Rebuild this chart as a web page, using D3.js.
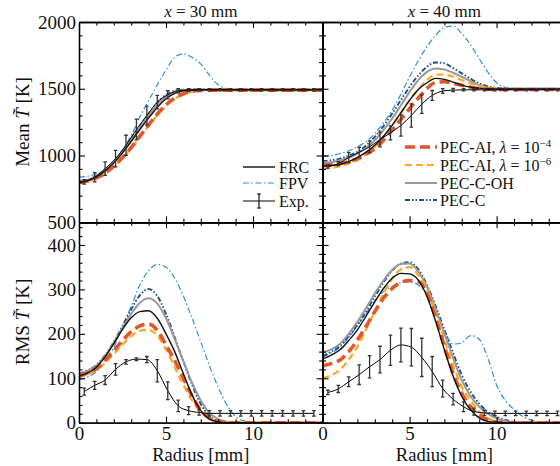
<!DOCTYPE html>
<html><head><meta charset="utf-8">
<script src="https://cdn.jsdelivr.net/npm/d3@7"></script>
<style>body{margin:0;background:#fff}svg{display:block}</style>
</head><body>
<svg id="c" width="560" height="466"></svg>
<script>
// ---------- data ----------
const radius = [0,0.5,1,1.5,2,2.5,3,3.5,4,4.5,5,5.5,6,6.5,7,7.5,8,8.5,9,9.5,10,10.5,11,11.5,12,12.5,13,13.5,14];
const radiusExp = [0.3,0.9,1.5,2.1,2.7,3.3,3.9,4.5,5.1,5.7,6.3,6.9,7.5,8.1,8.7,9.3,9.9,10.5,11.1,11.7,12.3,12.9,13.5];

// Mean T, x = 30 mm
const meanT30_FRC   = [800,812,840,885,945,1020,1105,1195,1280,1360,1425,1465,1485,1491,1492,1492,1492,1492,1492,1492,1492,1492,1492,1492,1492,1492,1492,1492,1492];
const meanT30_FPV   = [838,845,862,895,950,1040,1150,1290,1410,1530,1640,1735,1762,1735,1685,1600,1530,1502,1495,1494,1494,1494,1494,1494,1494,1494,1494,1494,1494];
const meanT30_AI4   = [800,810,832,868,920,985,1060,1145,1230,1310,1380,1430,1463,1480,1487,1490,1490,1490,1490,1490,1490,1490,1490,1490,1490,1490,1490,1490,1490];
const meanT30_AI6   = [795,806,828,864,915,980,1055,1138,1222,1302,1372,1425,1460,1478,1486,1489,1489,1489,1489,1489,1489,1489,1489,1489,1489,1489,1489,1489,1489];
const meanT30_COH   = [805,817,845,890,950,1028,1115,1208,1298,1380,1442,1478,1490,1493,1494,1494,1494,1494,1494,1494,1494,1494,1494,1494,1494,1494,1494,1494,1494];
const meanT30_C     = [808,820,848,893,955,1035,1125,1220,1310,1395,1455,1485,1493,1494,1494,1494,1494,1494,1494,1494,1494,1494,1494,1494,1494,1494,1494,1494,1494];
const meanT30_Exp   = [803,837,902,977,1077,1195,1300,1400,1455,1485,1490,1492,1492,1492,1492,1492,1492,1492,1492,1492,1492,1492,1492];
const meanT30_Err   = [17,35,50,62,75,78,70,50,30,15,10,8,8,8,8,8,8,8,8,8,8,8,8];

// Mean T, x = 40 mm
const meanT40_FRC   = [920,925,935,955,985,1025,1077,1145,1227,1320,1415,1495,1545,1578,1570,1550,1527,1512,1505,1500,1498,1498,1498,1498,1498,1498,1498,1498,1498];
const meanT40_FPV   = [995,1000,1015,1035,1065,1105,1165,1245,1340,1460,1590,1710,1815,1900,1960,1970,1915,1830,1727,1625,1545,1510,1500,1497,1497,1497,1497,1497,1497];
const meanT40_AI4   = [927,932,940,955,977,1010,1052,1115,1190,1270,1352,1430,1502,1548,1552,1540,1527,1512,1502,1496,1495,1495,1495,1495,1495,1495,1495,1495,1495];
const meanT40_AI6   = [902,907,920,940,965,1010,1065,1140,1227,1320,1415,1495,1565,1605,1607,1590,1565,1540,1520,1508,1502,1497,1497,1497,1497,1497,1497,1497,1497];
const meanT40_COH   = [945,950,965,985,1015,1058,1115,1190,1277,1375,1477,1565,1627,1652,1645,1620,1590,1557,1527,1510,1502,1500,1500,1500,1500,1500,1500,1500,1500];
const meanT40_C     = [960,965,977,998,1027,1075,1140,1220,1315,1415,1515,1600,1665,1697,1690,1655,1615,1575,1540,1518,1507,1502,1500,1500,1500,1500,1500,1500,1500];
const meanT40_Exp   = [918,940,985,1025,1065,1120,1170,1225,1300,1385,1450,1483,1490,1492,1492,1492,1492,1492,1492,1492,1492,1492,1492];
const meanT40_Err   = [12,15,37,37,45,55,52,80,87,70,37,18,12,8,8,8,8,8,8,8,8,8,8];

// RMS T, x = 30 mm
const rmsT30_FRC    = [105,112,125,148,178,210,236,250,252,235,200,160,110,62,27,8,2,0,0,0,0,0,0,0,0,0,0,0,0];
const rmsT30_FPV    = [97,103,115,137,170,215,262,310,342,356,350,325,285,235,182,128,80,40,14,4,1,0,0,0,0,0,0,0,0];
const rmsT30_AI4    = [105,112,122,140,162,185,205,218,222,208,175,140,100,60,28,10,2,0,0,0,0,0,0,0,0,0,0,0,0];
const rmsT30_AI6    = [102,109,118,135,155,176,195,207,209,196,165,125,85,50,24,9,3,0,0,0,0,0,0,0,0,0,0,0,0];
const rmsT30_COH    = [108,116,128,150,180,213,245,270,280,268,235,188,138,90,50,22,8,2,0,0,0,0,0,0,0,0,0,0,0];
const rmsT30_C      = [110,118,130,152,182,218,255,287,301,285,245,192,138,85,42,15,4,1,0,0,0,0,0,0,0,0,0,0,0];
const rmsT30_Exp    = [70,84,96,120,137,143,142,117,72,38,27,23,21,21,21,21,21,21,21,21,21,21,21];
const rmsT30_Err    = [8,9,10,13,5,3,7,25,20,13,9,6,6,6,6,6,6,6,6,6,6,6,6];

// RMS T, x = 40 mm
const rmsT40_FRC    = [143,152,164,185,209,240,272,302,325,336,335,321,284,228,164,105,59,29,11,3,1,0,0,0,0,0,0,0,0];
const rmsT40_FPV    = [148,157,170,192,218,246,275,295,307,315,317,310,290,250,205,177,180,196,188,145,85,50,30,14,6,2,0,0,0];
const rmsT40_AI4    = [128,133,141,160,186,217,250,280,302,316,320,318,291,235,171,111,66,36,17,6,1,0,0,0,0,0,0,0,0];
const rmsT40_AI6    = [100,107,119,142,171,210,250,290,325,345,350,332,299,245,186,130,81,51,25,10,2,0,0,0,0,0,0,0,0];
const rmsT40_COH    = [158,165,177,200,227,258,291,320,344,357,358,340,306,255,201,146,96,60,36,20,10,4,1,0,0,0,0,0,0];
const rmsT40_C      = [150,160,173,195,220,250,284,316,342,358,361,345,310,262,209,157,107,70,43,24,13,6,2,1,0,0,0,0,0];
const rmsT40_Exp    = [68,76,92,108,126,142,163,175,170,147,115,77,53,36,25,22,21,21,21,21,21,21,21];
const rmsT40_Err    = [5,8,11,22,25,30,34,38,42,43,34,19,13,11,8,6,5,5,5,5,5,5,5];

const meanTicks = [500,1000,1500,2000];
const rmsTicks = [0,100,200,300,400];
const radiusTicks = [0,5,10];
const panelTitles = ["30","40"];

// ---------- styles ----------
const styles = {
  FPV: {color:"#2d8fd5", width:1.2, dash:"6,2.5,1.5,2.5", label:"FPV"},
  C:   {color:"#1b4e8a", width:1.9, dash:"5,2,1.5,2,1.5,2", label:"PEC-C"},
  COH: {color:"#999999", width:2, dash:null, label:"PEC-C-OH"},
  AI6: {color:"#ffa81c", width:2.2, dash:"7,4", label:"PEC-AI"},
  AI4: {color:"#e2562a", width:3.6, dash:"10,5", label:"PEC-AI"},
  FRC: {color:"#111111", width:1.4, dash:null, label:"FRC"}
};
const order = ["FPV","C","COH","AI6","AI4","FRC"];
const FONT = "'Liberation Serif','Times New Roman',serif";

const svg = d3.select("#c");
const xL = d3.scaleLinear([0,14],[79,322.6]);
const xR = d3.scaleLinear([0,14],[322.6,566.2]);
const yTop = d3.scaleLinear([500,2000],[222.3,22]);
const yBot = d3.scaleLinear([0,451],[422.7,222.3]);

const panels = [
  {x:xL, y:yTop, s:{FRC:meanT30_FRC,FPV:meanT30_FPV,AI4:meanT30_AI4,AI6:meanT30_AI6,COH:meanT30_COH,C:meanT30_C}, exp:meanT30_Exp, err:meanT30_Err},
  {x:xR, y:yTop, s:{FRC:meanT40_FRC,FPV:meanT40_FPV,AI4:meanT40_AI4,AI6:meanT40_AI6,COH:meanT40_COH,C:meanT40_C}, exp:meanT40_Exp, err:meanT40_Err},
  {x:xL, y:yBot, s:{FRC:rmsT30_FRC,FPV:rmsT30_FPV,AI4:rmsT30_AI4,AI6:rmsT30_AI6,COH:rmsT30_COH,C:rmsT30_C}, exp:rmsT30_Exp, err:rmsT30_Err},
  {x:xR, y:yBot, s:{FRC:rmsT40_FRC,FPV:rmsT40_FPV,AI4:rmsT40_AI4,AI6:rmsT40_AI6,COH:rmsT40_COH,C:rmsT40_C}, exp:rmsT40_Exp, err:rmsT40_Err}
];

const defs = svg.append("defs");
panels.forEach((p,i)=>{
  const [x0,x1]=p.x.range(), [y0,y1]=p.y.range();
  defs.append("clipPath").attr("id","clip"+i).append("rect")
    .attr("x",x0).attr("y",y1).attr("width",x1-x0).attr("height",y0-y1);
  const g = svg.append("g").attr("clip-path",`url(#clip${i})`);
  order.forEach(k=>{
    const st=styles[k];
    const line=d3.line().x((d,j)=>p.x(radius[j])).y(d=>p.y(d)).curve(d3.curveMonotoneX);
    g.append("path").attr("d",line(p.s[k])).attr("fill","none")
      .attr("stroke",st.color).attr("stroke-width",st.width)
      .attr("stroke-dasharray",st.dash).attr("stroke-linejoin","round");
  });
  // experiment
  const eline=d3.line().x((d,j)=>p.x(radiusExp[j])).y(d=>p.y(d)).curve(d3.curveMonotoneX);
  g.append("path").attr("d",eline(p.exp)).attr("fill","none").attr("stroke","#000").attr("stroke-width",1);
  const eb=g.selectAll(null).data(p.exp).enter().append("g").attr("stroke","#333").attr("stroke-width",1.3);
  eb.append("line").attr("x1",(d,j)=>p.x(radiusExp[j])).attr("x2",(d,j)=>p.x(radiusExp[j]))
    .attr("y1",(d,j)=>p.y(d-p.err[j])).attr("y2",(d,j)=>p.y(d+p.err[j]));
  eb.append("line").attr("x1",(d,j)=>p.x(radiusExp[j])-1.8).attr("x2",(d,j)=>p.x(radiusExp[j])+1.8)
    .attr("y1",(d,j)=>p.y(d-p.err[j])).attr("y2",(d,j)=>p.y(d-p.err[j]));
  eb.append("line").attr("x1",(d,j)=>p.x(radiusExp[j])-1.8).attr("x2",(d,j)=>p.x(radiusExp[j])+1.8)
    .attr("y1",(d,j)=>p.y(d+p.err[j])).attr("y2",(d,j)=>p.y(d+p.err[j]));
});

// ---------- axes ----------
function styleAxis(sel, labels){
  sel.selectAll("path.domain").attr("stroke","#000").attr("stroke-width",1.3);
  sel.selectAll(".tick line").attr("stroke","#000").attr("stroke-width",1.1);
  sel.selectAll("text").attr("font-family",FONT).attr("font-size",19).attr("fill","#111");
  if(!labels) sel.selectAll("text").remove();
}
function addAxis(gen, tx, ty, labels){
  const g=svg.append("g").attr("transform",`translate(${tx},${ty})`).call(gen);
  styleAxis(g, labels);
}
const minorX = d3.range(15).filter(v=>v%5!==0);
const minorTop = d3.range(600,2000,100).filter(v=>v%500!==0);
const minorBot = d3.range(20,451,20).filter(v=>v%100!==0);

panels.forEach((p,i)=>{
  const [x0,x1]=p.x.range(), [y0,y1]=p.y.range();
  const isTop = i<2, isLeft = i%2===0;
  const yMaj = isTop?meanTicks:rmsTicks, yMin = isTop?minorTop:minorBot;
  addAxis(d3.axisLeft(p.y).tickValues(yMaj).tickSize(-6).tickSizeOuter(0).tickPadding(3).tickFormat(d3.format("d")), x0,0,isLeft);
  addAxis(d3.axisLeft(p.y).tickValues(yMin).tickSize(-3.5).tickSizeOuter(0).tickFormat(""), x0,0,false);
  addAxis(d3.axisRight(p.y).tickValues(yMaj).tickSize(-6).tickSizeOuter(0).tickFormat(""), x1,0,false);
  addAxis(d3.axisRight(p.y).tickValues(yMin).tickSize(-3.5).tickSizeOuter(0).tickFormat(""), x1,0,false);
  addAxis(d3.axisBottom(p.x).tickValues(radiusTicks).tickSize(-6).tickSizeOuter(0).tickPadding(4).tickFormat(d3.format("d")), 0,y0,!isTop);
  addAxis(d3.axisBottom(p.x).tickValues(minorX).tickSize(-3.5).tickSizeOuter(0).tickFormat(""), 0,y0,false);
  addAxis(d3.axisTop(p.x).tickValues(radiusTicks).tickSize(-6).tickSizeOuter(0).tickFormat(""), 0,y1,false);
  addAxis(d3.axisTop(p.x).tickValues(minorX).tickSize(-3.5).tickSizeOuter(0).tickFormat(""), 0,y1,false);
});

// ---------- titles & labels ----------
[xL,xR].forEach((x,i)=>{
  const cx=(x.range()[0]+x.range()[1])/2;
  const t=svg.append("text").attr("x",cx).attr("y",17).attr("text-anchor","middle")
    .attr("font-family",FONT).attr("font-size",17).attr("fill","#111");
  t.append("tspan").attr("font-style","italic").text("x");
  t.append("tspan").text(" = "+panelTitles[i]+" mm");
  svg.append("text").attr("x",cx).attr("y",461).attr("text-anchor","middle")
    .attr("font-family",FONT).attr("font-size",18.5).attr("fill","#111").text("Radius [mm]");
});
function ylabel(word, cy){
  const t=svg.append("text").attr("transform",`translate(29,${cy}) rotate(-90)`).attr("text-anchor","middle")
    .attr("font-family",FONT).attr("font-size",19).attr("fill","#111");
  t.append("tspan").text(word+" ");
  t.append("tspan").attr("font-style","italic").text("T\u0303");
  t.append("tspan").text(" [K]");
}
ylabel("Mean",122);
ylabel("RMS",322);

// ---------- legends ----------
function legendLine(k,x0,x1,y){
  const st=styles[k];
  svg.append("line").attr("x1",x0).attr("x2",x1).attr("y1",y).attr("y2",y)
    .attr("stroke",st.color).attr("stroke-width",st.width).attr("stroke-dasharray",st.dash);
}
function legendText(x,y){
  return svg.append("text").attr("x",x).attr("y",y+5.5).attr("font-family",FONT).attr("font-size",16).attr("fill","#111");
}
legendLine("FRC",243,275,167); legendText(279,167).text("FRC");
legendLine("FPV",243,275,183); legendText(279,183).text("FPV");
svg.append("line").attr("x1",243).attr("x2",275).attr("y1",201).attr("y2",201).attr("stroke","#000").attr("stroke-width",1);
svg.append("line").attr("x1",259).attr("x2",259).attr("y1",194).attr("y2",208).attr("stroke","#222").attr("stroke-width",1.3);
svg.append("line").attr("x1",257.2).attr("x2",260.8).attr("y1",194).attr("y2",194).attr("stroke","#222").attr("stroke-width",1.3);
svg.append("line").attr("x1",257.2).attr("x2",260.8).attr("y1",208).attr("y2",208).attr("stroke","#222").attr("stroke-width",1.3);
legendText(279,201).text("Exp.");
function aiText(y,exp){
  const t=legendText(440,y);
  t.append("tspan").text("PEC-AI, ");
  t.append("tspan").attr("font-style","italic").text("λ");
  t.append("tspan").text(" = 10");
  t.append("tspan").attr("dy",-6).attr("font-size",11).text(exp);
}
legendLine("AI4",405,437,147); aiText(147,"−4");
legendLine("AI6",405,437,165); aiText(165,"−6");
legendLine("COH",405,437,183); legendText(440,183).text("PEC-C-OH");
legendLine("C",405,437,200); legendText(440,200).text("PEC-C");
</script>
</body></html>
